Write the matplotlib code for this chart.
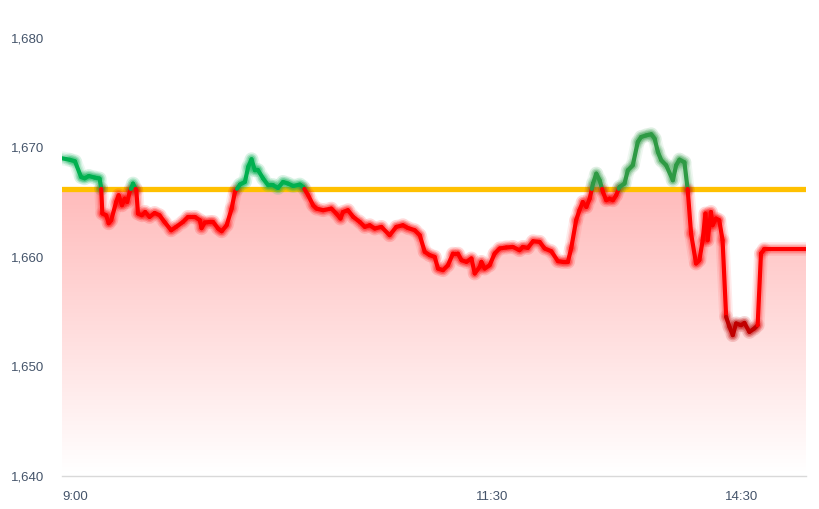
import numpy as np
import matplotlib
matplotlib.use('Agg')
import matplotlib.pyplot as plt
from matplotlib.collections import LineCollection

# trading minutes since 9:00 (lunch break removed) and index level
times = [0, 2.9, 4.7, 6.9, 8.2, 9.7, 11.8, 13.6, 14.2, 14.6, 16.0, 16.9, 17.8, 19.6, 20.5,
         21.7, 22.7, 23.6, 24.5, 25.7, 26.9, 27.5, 28.9, 30.1, 31.7, 33.5, 35.3, 37.1, 39.5,
         41.3, 43.8, 45.6, 48.1, 49.9, 50.5, 51.7, 53.5, 54.7, 56.5, 57.8, 59.6, 61.4, 62.6,
         64.4, 66.2, 67.4, 68.6, 69.8, 71.0, 72.8, 74.6, 76.4, 78.2, 80.0, 81.8, 83.7, 86.1,
         87.3, 89.1, 90.9, 92.1, 94.5, 97.5, 99.3, 100.8, 101.7, 103.5, 105.4, 107.8, 109.6,
         111.4, 113.2, 115.6, 118.6, 121.0, 123.4, 125.2, 127.7, 129.5, 131.3, 133.1, 134.9,
         136.1, 137.9, 139.7, 141.5, 143.3, 144.6, 146.4, 148.2, 149.4, 151.2, 151.8, 153.0,
         154.8, 156.6, 158.4, 160.8, 163.2, 165.6, 166.8, 168.6, 170.5, 172.9, 174.7, 177.1,
         179.5, 181.3, 183.1, 184.3, 186.1, 187.3, 188.5, 189.8, 191.0, 192.2, 193.4, 194.6,
         195.8, 197.0, 198.2, 199.4, 200.6, 201.8, 203.6, 204.8, 206.6, 208.4, 209.6, 211.5,
         213.3, 214.5, 215.7, 216.9, 218.7, 221.1, 222.3, 223.5, 225.3, 226.5, 227.7, 229.5,
         230.7, 231.9, 232.9, 233.7, 234.9, 235.5, 236.7, 237.9, 239.1, 240.4, 241.6, 242.8,
         244.0, 245.8, 247.0, 248.8, 250.6, 251.8, 253.0, 254.2, 269.3]
prices = [1668.99, 1668.85, 1668.71, 1667.28, 1667.16, 1667.37, 1667.23, 1667.14, 1666.23,
          1663.95, 1663.79, 1663.06, 1663.34, 1665.00, 1665.62, 1664.70, 1665.31, 1665.00,
          1665.92, 1666.68, 1666.07, 1663.95, 1663.79, 1664.09, 1663.64, 1664.00, 1663.79,
          1663.18, 1662.42, 1662.73, 1663.18, 1663.64, 1663.64, 1663.34, 1662.61, 1663.13,
          1663.18, 1663.18, 1662.58, 1662.33, 1662.88, 1664.40, 1665.92, 1666.59, 1666.83,
          1668.20, 1668.90, 1667.89, 1667.89, 1667.14, 1666.53, 1666.53, 1666.28, 1666.83,
          1666.68, 1666.46, 1666.59, 1666.37, 1665.62, 1664.70, 1664.40, 1664.25, 1664.40,
          1663.95, 1663.49, 1664.09, 1664.25, 1663.64, 1663.18, 1662.73, 1662.88, 1662.58,
          1662.73, 1661.97, 1662.73, 1662.88, 1662.63, 1662.42, 1661.97, 1660.45, 1660.15,
          1659.99, 1658.93, 1658.78, 1659.23, 1660.30, 1660.30, 1659.69, 1659.54, 1659.85,
          1658.48, 1659.08, 1659.54, 1658.93, 1659.23, 1660.30, 1660.76, 1660.85, 1660.90,
          1660.60, 1660.90, 1660.81, 1661.42, 1661.36, 1660.76, 1660.51, 1659.60, 1659.54,
          1659.54, 1660.76, 1663.34, 1664.25, 1665.00, 1664.55, 1665.31, 1666.68, 1667.59,
          1666.98, 1665.92, 1665.16, 1665.31, 1665.16, 1665.62, 1666.37, 1666.68, 1667.89,
          1668.35, 1670.47, 1670.93, 1671.08, 1671.18, 1670.78, 1669.56, 1668.81, 1668.35,
          1666.98, 1668.35, 1668.87, 1668.62, 1666.07, 1662.12, 1659.39, 1659.69, 1661.51,
          1663.95, 1661.51, 1664.09, 1662.88, 1663.49, 1663.34, 1661.51, 1654.52, 1653.61,
          1652.85, 1653.92, 1653.76, 1653.97, 1653.15, 1653.46, 1653.76, 1660.30, 1660.67,
          1660.67]
ref_price = 1666.2
tick_pos = [0, 150, 240]
tick_labels = ['9:00', '11:30', '14:30']
y_ticks = [1640, 1650, 1660, 1670, 1680]
y_labels = ['1,640', '1,650', '1,660', '1,670', '1,680']

t = np.asarray(times, float)
v = np.asarray(prices, float)

# insert crossing points with the reference level
dt, dv = [t[0]], [v[0]]
for i in range(1, len(t)):
    a, b = v[i - 1] - ref_price, v[i] - ref_price
    if a * b < 0:
        f = a / (a - b)
        dt.append(t[i - 1] + f * (t[i] - t[i - 1]))
        dv.append(ref_price)
    dt.append(t[i]); dv.append(v[i])
dt = np.array(dt); dv = np.array(dv)

fig = plt.figure(figsize=(8.19, 5.09), dpi=100)
ax = fig.add_axes([62 / 819, 33 / 509, 744 / 819, 438.4 / 509])
ax.set_xlim(t[0], t[-1])
ax.set_ylim(1640, 1680)

# gradient fill under min(value, ref)
poly = ax.fill_between(dt, 1640, np.minimum(dv, ref_price), facecolor='none',
                       edgecolor='none')
grad = np.zeros((256, 1, 4))
grad[..., 0] = 1.0
grad[..., 1] = 0.0
grad[..., 2] = 0.0
grad[:, 0, 3] = np.linspace(0.0, 0.27, 256)
im = ax.imshow(grad, extent=[t[0], t[-1], 1640, ref_price], origin='lower',
               aspect='auto', zorder=1, interpolation='bilinear')
im.set_clip_path(poly.get_paths()[0], transform=ax.transData)
ax.set_xlim(t[0], t[-1])
ax.set_ylim(1640, 1680)

# thin green line just under the reference where price is below it
gl = np.where(dv <= ref_price + 1e-9, ref_price - 0.2, np.nan)
ax.plot(dt, gl, color='#2E9E44', lw=1.2, zorder=2)

# reference line
ax.axhline(ref_price, color='#FFC000', lw=3.8, zorder=3)

# coloured price line
segs, cols = [], []
for i in range(1, len(dt)):
    mt = 0.5 * (dt[i - 1] + dt[i])
    mv = 0.5 * (dv[i - 1] + dv[i])
    if mv >= ref_price:
        c = '#00B050' if mt < 150 else '#2E9A44'
    else:
        c = '#C00000' if mv < 1656.5 else '#FF0000'
    segs.append([(dt[i - 1], dv[i - 1]), (dt[i], dv[i])])
    cols.append(c)

for lw, al in [(10, 0.08), (7.5, 0.12), (5.5, 0.18)]:
    lc = LineCollection(segs, colors=cols, linewidths=lw, alpha=al,
                        capstyle='round', joinstyle='round', zorder=4)
    ax.add_collection(lc)
lc = LineCollection(segs, colors=cols, linewidths=3.0,
                    capstyle='round', joinstyle='round', zorder=5)
ax.add_collection(lc)

# axes styling
for s in ['top', 'right', 'left']:
    ax.spines[s].set_visible(False)
ax.spines['bottom'].set_color('#D9D9D9')
ax.spines['bottom'].set_linewidth(1.0)
ax.set_yticks(y_ticks)
ax.set_yticklabels(y_labels)
ax.set_xticks(tick_pos)
ax.set_xticklabels(tick_labels, ha='left')
ax.tick_params(axis='both', length=0, colors='#44546A', labelsize=9.5)
ax.tick_params(axis='y', pad=13)
ax.tick_params(axis='x', pad=11)
for lab in ax.get_xticklabels() + ax.get_yticklabels():
    lab.set_fontfamily('Liberation Sans')
    lab.set_color('#44546A')

fig.savefig('out.png', dpi=100, facecolor='white')
